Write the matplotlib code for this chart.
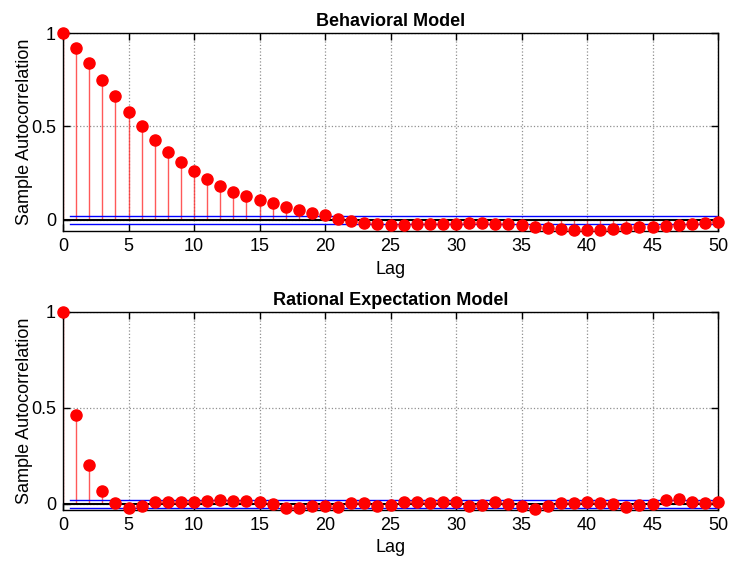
import matplotlib.pyplot as plt
import numpy as np

plt.rcParams['font.family'] = ['Liberation Sans', 'DejaVu Sans']

lags = np.arange(0, 51)

acf_behavioral = [1.0, 0.92, 0.84, 0.748, 0.661, 0.577, 0.50, 0.429, 0.364, 0.307,
                  0.259, 0.216, 0.180, 0.150, 0.125, 0.105, 0.089, 0.070, 0.054, 0.039,
                  0.023, 0.005, -0.007, -0.018, -0.023, -0.027, -0.027, -0.025, -0.025, -0.023,
                  -0.022, -0.017, -0.015, -0.022, -0.025, -0.030, -0.038, -0.045, -0.048, -0.054,
                  -0.055, -0.052, -0.048, -0.045, -0.041, -0.038, -0.034, -0.030, -0.025, -0.018,
                  -0.011]

acf_rational = [1.0, 0.465, 0.20, 0.068, 0.007, -0.021, -0.012, 0.009, 0.009, 0.010,
                0.010, 0.014, 0.021, 0.017, 0.014, 0.009, 0.0, -0.019, -0.024, -0.009,
                -0.010, -0.016, 0.003, 0.003, -0.009, -0.007, 0.009, 0.010, 0.005, 0.010,
                0.010, -0.009, -0.005, 0.010, -0.002, -0.009, -0.028, -0.009, 0.003, 0.005,
                0.012, 0.007, -0.002, -0.017, -0.005, -0.002, 0.021, 0.026, 0.010, 0.007,
                0.012]

bounds = [0.021, 0.020]
titles = ['Behavioral Model', 'Rational Expectation Model']
ylims = [(-0.06, 1.0), (-0.032, 1.0)]

fig = plt.figure(figsize=(7.29, 5.61), dpi=100)
ax_top = fig.add_axes([63 / 729, 1 - 231 / 561, 655 / 729, 198 / 561])
ax_bot = fig.add_axes([63 / 729, 1 - 510 / 561, 655 / 729, 198 / 561])

for ax, acf, b, title, yl in zip([ax_top, ax_bot], [acf_behavioral, acf_rational],
                                  bounds, titles, ylims):
    ax.vlines(lags, 0, acf, color='#ff3030', linewidth=1.0, alpha=0.8, zorder=2)
    ax.plot([0, 50], [0, 0], color='black', linewidth=1.5, zorder=2)
    ax.plot([0.5, 50], [b, b], color='blue', linewidth=1.0, zorder=3)
    ax.plot([0.5, 50], [-b, -b], color='blue', linewidth=1.0, zorder=3)
    ax.plot(lags, acf, 'o', color='red', markersize=8, zorder=4, clip_on=False)
    ax.set_xlim(0, 50)
    ax.set_ylim(*yl)
    ax.set_xticks(np.arange(0, 51, 5))
    ax.set_yticks([0, 0.5, 1])
    ax.set_yticklabels(['0', '0.5', '1'])
    ax.tick_params(direction='in', top=True, right=True, labelsize=13, length=5,
                   width=1, pad=5)
    ax.grid(True, color='#909090', linestyle=':', linewidth=0.9)
    ax.set_axisbelow(True)
    for s in ax.spines.values():
        s.set_linewidth(1.0)
    ax.set_title(title, fontsize=13, fontweight='bold', pad=5)
    ax.set_xlabel('Lag', fontsize=13, labelpad=4)
    ax.set_ylabel('Sample Autocorrelation', fontsize=13, labelpad=0)
    ax.yaxis.set_label_coords(-0.046, 0.5)

plt.savefig('out.png', dpi=100)
